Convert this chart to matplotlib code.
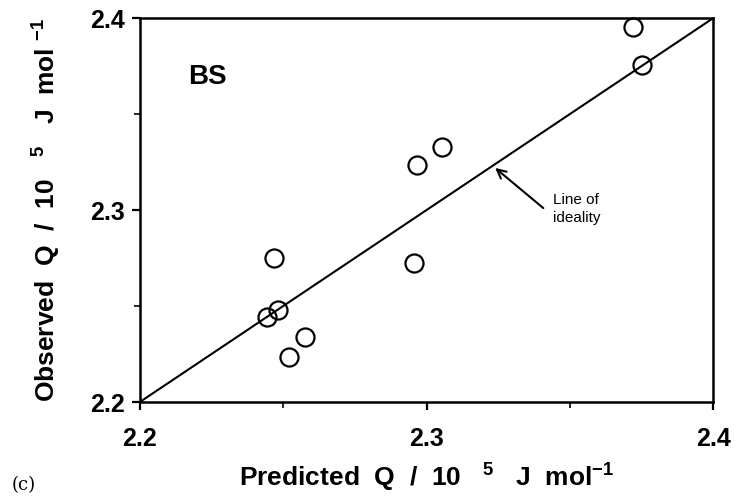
import matplotlib
matplotlib.use("Agg")
import matplotlib.pyplot as plt
from matplotlib.ticker import MultipleLocator, FormatStrFormatter

plt.rcParams['font.family'] = ['Liberation Sans', 'DejaVu Sans']
plt.rcParams['mathtext.fontset'] = 'custom'
plt.rcParams['mathtext.rm'] = 'Liberation Sans:bold'
plt.rcParams['mathtext.it'] = 'Liberation Sans:bold'
plt.rcParams['mathtext.bf'] = 'Liberation Sans:bold'

# Heat of activation, predicted vs observed (units of 1e5 J/mol)
predicted = [2.3721, 2.3752, 2.2966, 2.3053, 2.2469, 2.2956, 2.2444, 2.2483, 2.2576, 2.2521]
observed = [2.3953, 2.3755, 2.3234, 2.3327, 2.2748, 2.2726, 2.2441, 2.2479, 2.2340, 2.2233]
axis_limits = [2.2, 2.4]
major_ticks = [2.2, 2.3, 2.4]

fig = plt.figure(figsize=(7.4, 5.0), dpi=100)
ax = fig.add_axes([0.189, 0.196, 0.775, 0.768])

# line of ideality (predicted == observed)
ax.plot(axis_limits, axis_limits, color='black', lw=1.5, zorder=2)
ax.plot(predicted, observed, linestyle='none', marker='o', markersize=13,
        markerfacecolor='none', markeredgecolor='black', markeredgewidth=1.6,
        zorder=3, clip_on=False)

ax.set_xlim(axis_limits)
ax.set_ylim(axis_limits)
ax.set_xticks(major_ticks)
ax.set_yticks(major_ticks)
ax.xaxis.set_minor_locator(MultipleLocator(0.05))
ax.yaxis.set_minor_locator(MultipleLocator(0.05))
ax.xaxis.set_major_formatter(FormatStrFormatter('%.1f'))
ax.yaxis.set_major_formatter(FormatStrFormatter('%.1f'))
ax.tick_params(which='major', direction='out', length=6, width=1.6,
               labelsize=18, pad=5)
ax.tick_params(which='minor', direction='out', length=4, width=1.2)
ax.tick_params(axis='x', which='major', pad=12)
for lab in ax.get_xticklabels() + ax.get_yticklabels():
    lab.set_fontweight('bold')
for sp in ax.spines.values():
    sp.set_linewidth(1.8)

ax.set_xlabel(r'Predicted  Q  /  10   $^{5}$   J  mol$^{-1}$', fontsize=19,
              fontweight='bold', labelpad=8)
ax.set_ylabel(r'Observed  Q  /  10   $^{5}$   J  mol $^{-1}$', fontsize=19,
              fontweight='bold', labelpad=19)

fig.text(188 / 740, 0.845, 'BS', fontsize=20, fontweight='bold',
         ha='left', va='center')

ax.annotate('', xy=(2.3239, 2.3219), xytext=(2.3407, 2.3010),
            arrowprops=dict(arrowstyle='->', color='black', lw=1.5,
                            mutation_scale=16, shrinkA=0, shrinkB=0))
ax.text(2.3441, 2.3005, 'Line of\nideality', fontsize=11,
        ha='left', va='center', linespacing=1.3)

fig.text(0.016, 0.03, '(c)', fontsize=13, family='DejaVu Serif',
         ha='left', va='center')

fig.savefig('out.png', dpi=100)
